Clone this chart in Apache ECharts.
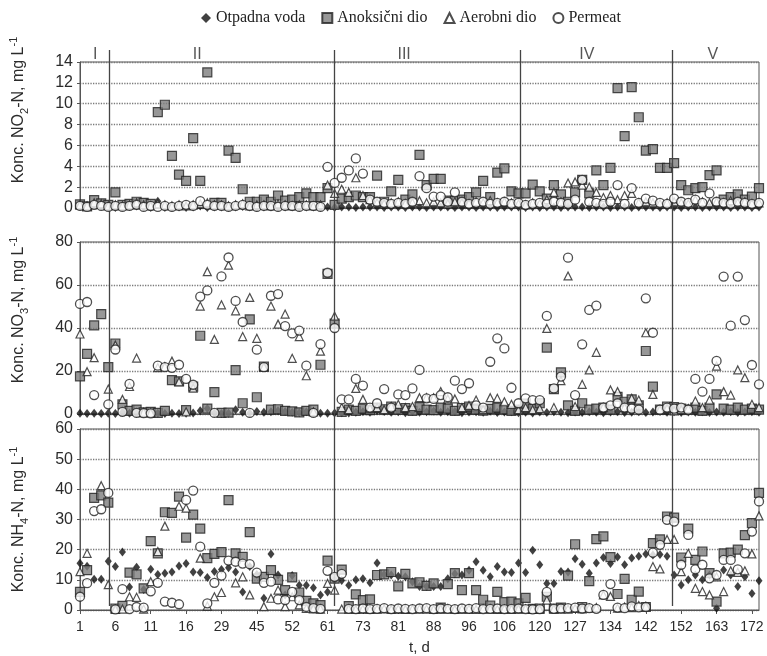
<!DOCTYPE html>
<html><head><meta charset="utf-8">
<script src="https://cdn.jsdelivr.net/npm/echarts@6/dist/echarts.min.js"></script>
<style>html,body{margin:0;padding:0;background:#fff}#c{width:767px;height:656px}</style>
</head><body><div id="c"></div>
<script>
// x axis: sample index 0..96, tick label every 5th sample (day numbers)
const tickLabels = [1,6,11,16,29,45,52,61,73,81,88,96,106,120,127,134,142,152,163,172];
const seriesNames = ['Otpadna voda','Anoksični dio','Aerobni dio','Permeat'];
const phaseNames = ['I','II','III','IV','V'];
const phaseBounds = [4.2, 36, 62.3, 83.7];          // sample-index positions of phase boundaries
const phaseLabelAt = [2.3, 16.7, 45.9, 71.7, 89.5];  // sample-index positions of phase names

// ---- NO2-N ----
const no2Otp = [
0.15,0.1,0.3,0.2,0.1,0.05,0.1,0.15,0.2,0.1,
0.05,0.65,0.05,0.05,0.1,0.05,0.1,0.2,0.05,0.1,
0.1,0.05,0.1,0.15,0.1,0.05,0.1,0.1,0.05,0.1,
0.1,0.05,0.1,0.1,0.05,0.1,0.05,0.1,0.1,0.05,
0.1,0.1,0.1,0.05,0.1,0.1,0.05,0.1,0.1,0.05,
0.1,0.1,0.1,0.05,0.1,0.1,0.05,0.1,0.1,0.05,
0.1,0.1,0.1,0.05,0.1,0.05,0.1,0.1,0.05,0.1,
0.1,0.1,0.05,0.1,0.1,0.05,0.1,0.1,0.05,0.1,
0.1,0.1,0.05,0.1,0.1,0.05,0.1,0.1,0.05,0.1,
0.1,0.1,0.05,0.1,0.1,0.05,0.1];
const no2Anox = [
0.35,0.15,0.75,0.45,0.3,1.5,0.3,0.4,0.6,0.5,
0.4,9.2,9.9,5.0,3.2,2.6,6.7,2.6,13.0,0.5,
0.5,5.5,4.8,1.8,0.6,0.6,0.8,0.6,1.2,0.7,
0.8,1.05,1.4,1.05,1.05,1.9,0.3,0.9,1.05,1.2,
1.05,1.05,3.1,0.6,1.6,2.7,0.8,1.3,5.1,2.2,
2.8,2.8,0.7,0.7,0.8,1.05,1.5,2.6,1.05,3.4,
3.8,1.6,1.4,1.4,2.25,1.6,0.9,2.2,1.3,0.6,
1.5,2.7,1.4,3.6,2.2,3.85,11.5,6.9,11.6,8.7,
5.5,5.65,3.85,3.85,4.3,2.2,1.7,1.9,2.0,3.15,
3.6,0.8,1.05,1.3,0.8,1.1,1.9];
const no2Aer = [
0.3,0.2,0.5,0.4,0.2,0.3,0.2,0.3,0.5,0.3,
0.2,0.4,0.3,0.2,0.3,0.2,0.3,0.4,0.5,0.3,
0.3,0.2,0.3,0.4,0.2,0.3,0.3,0.2,0.4,0.3,
0.2,0.3,0.3,0.2,0.3,2.2,1.4,1.8,1.5,2.9,
1.2,0.8,0.5,0.4,0.5,0.6,0.4,0.5,0.7,0.5,
0.6,0.5,0.4,0.6,0.5,0.4,0.6,0.5,0.7,0.5,
0.6,0.5,0.4,0.3,0.5,0.4,0.8,1.5,0.6,2.4,
2.5,2.2,2.0,1.5,1.0,1.2,0.8,1.2,1.4,0.5,
0.6,0.5,0.4,0.5,0.6,0.5,0.4,0.8,0.6,0.5,
0.6,0.5,0.7,0.5,0.6,0.4,0.5];
const no2Perm = [
0.2,0.1,0.3,0.2,0.1,0.2,0.1,0.2,0.3,0.1,
0.2,0.1,0.2,0.1,0.2,0.3,0.2,0.65,0.3,0.2,
0.2,0.1,0.2,0.3,0.2,0.1,0.2,0.2,0.1,0.2,
0.2,0.1,0.2,0.2,0.1,3.95,2.4,2.9,3.6,4.75,
3.3,0.8,0.6,0.5,0.4,0.5,0.4,0.6,3.05,1.9,
1.1,1.1,0.6,1.5,0.6,0.4,0.5,0.6,0.4,0.5,
0.6,0.4,0.5,0.3,0.4,0.5,0.4,0.6,0.5,0.4,
0.8,2.7,0.6,0.5,0.4,0.6,2.2,0.4,1.9,0.5,
0.9,0.7,0.5,0.4,0.9,0.6,0.5,0.8,0.5,1.4,
0.6,0.5,0.4,0.6,0.5,0.4,0.5];

// ---- NO3-N ----
const no3Otp = [
0.3,0.2,0.3,0.2,0.3,0.2,0.8,0.3,0.2,0.3,
0.2,0.3,0.2,0.3,0.2,0.3,0.5,1.5,2.6,0.3,
0.2,0.3,2.0,0.8,0.5,1.2,0.8,1.0,1.5,1.2,
0.8,0.6,1.0,0.5,0.4,0.3,0.5,0.6,0.5,0.8,
1.0,0.8,1.5,1.2,0.8,1.0,0.6,1.2,0.8,1.0,
1.4,0.8,1.0,1.2,0.6,0.9,1.1,0.8,1.3,0.7,
0.9,1.0,0.6,0.8,0.5,0.9,0.7,1.0,0.8,0.6,
0.9,0.7,1.0,0.8,0.6,0.9,1.1,0.7,0.8,1.0,
0.7,0.9,1.2,0.8,1.0,0.7,0.9,0.8,1.1,0.7,
0.9,0.8,1.0,0.7,0.9,1.1,0.8];
const no3Anox = [
17.5,28.0,41.2,46.5,21.8,32.8,4.5,1.5,2.0,0.8,
1.0,0.5,1.5,15.8,15.2,1.8,12.7,36.4,2.5,10.2,
0.5,0.6,20.4,5.0,44.0,7.8,22.0,2.0,2.2,1.5,
1.2,0.8,1.5,2.0,22.9,65.2,42.0,1.0,2.0,1.5,
2.5,1.8,3.0,2.2,3.5,2.0,2.8,1.5,3.2,2.0,
1.8,3.0,2.5,1.5,2.8,3.5,2.0,1.6,2.4,3.0,
2.2,1.5,2.0,4.8,2.5,5.0,30.9,11.6,19.4,4.0,
1.5,5.0,2.0,2.5,3.0,2.0,8.0,5.7,6.8,4.0,
29.3,12.7,2.0,3.5,3.2,2.5,2.0,3.0,1.5,3.0,
9.1,2.5,2.0,3.0,2.0,2.5,2.0];
const no3Aer = [
37.2,19.7,26.2,null,11.6,32.0,6.8,12.8,26.0,0.8,
0.5,21.6,22.0,24.6,15.0,1.0,12.0,50.2,66.2,34.7,
50.8,69.2,48.0,36.0,54.2,35.2,21.8,50.2,41.8,46.5,
25.9,36.0,17.8,1.0,29.2,null,45.5,3.0,2.0,11.9,
6.8,2.5,3.0,2.0,3.5,4.5,3.0,3.5,7.6,7.6,
7.5,10.4,7.0,7.0,3.0,4.0,6.5,2.0,7.6,7.3,
5.7,4.5,2.0,3.0,2.0,2.5,39.8,3.0,15.5,64.2,
3.5,13.8,20.5,28.7,3.0,11.2,10.4,3.0,7.3,6.5,
37.8,9.1,2.0,2.5,1.5,2.0,2.5,6.0,3.0,6.5,
22.3,10.4,8.8,20.5,16.9,4.5,3.0];
const no3Perm = [
51.2,52.1,8.8,null,4.5,30.0,1.0,14.0,0.5,0.4,
0.3,22.5,21.8,21.5,22.9,16.3,13.6,54.6,57.5,0.5,
64.0,72.8,52.6,42.8,0.5,29.9,21.8,55.0,55.8,40.9,
37.5,38.8,22.5,0.5,32.5,65.7,40.0,6.8,6.8,16.3,
13.2,3.0,5.0,11.6,3.0,9.1,8.8,11.9,20.5,7.3,
7.0,8.8,7.8,15.5,11.6,14.3,4.0,3.0,24.3,35.2,
30.5,12.2,5.0,7.3,6.5,6.5,45.6,11.9,17.4,72.7,
8.8,32.4,48.4,50.4,3.0,4.0,5.0,3.0,2.5,2.0,
53.8,37.8,2.0,3.0,2.5,3.0,2.0,16.3,10.4,16.3,
24.7,63.9,41.1,63.9,43.7,22.8,13.8];

// ---- NH4-N ----
const nh4Otp = [
15.5,14.5,10.2,10.2,16.2,14.4,19.2,7.6,14.2,6.8,
13.5,11.8,12.2,12.6,14.6,15.4,12.6,12.4,10.8,12.8,
13.4,14.0,12.6,6.0,14.4,11.8,3.9,18.6,11.6,5.0,
11.4,8.2,8.2,7.4,5.0,6.0,10.0,9.8,8.2,10.0,
10.4,9.0,15.6,11.8,11.6,11.2,11.0,9.4,7.8,7.8,
7.8,7.8,10.4,12.0,11.6,13.2,16.0,13.2,11.0,14.4,
12.6,12.4,15.6,12.4,19.8,15.0,8.8,8.8,12.8,12.6,
17.0,15.2,12.2,15.6,17.4,15.4,17.6,15.0,17.2,17.8,
18.6,18.2,18.4,17.8,11.6,8.3,10.0,11.6,10.0,11.6,
0.6,13.3,11.6,7.8,11.0,5.5,9.7];
const nh4Anox = [
6.0,13.2,37.2,38.0,35.6,0.5,1.4,12.4,11.8,7.2,
22.8,18.8,32.4,32.2,37.6,24.0,31.6,27.0,17.2,18.6,
19.2,36.4,18.8,17.6,25.8,10.4,11.0,13.2,10.0,6.6,
10.8,5.8,3.0,2.2,1.6,16.4,10.4,13.4,1.3,5.2,
3.3,3.5,11.6,11.8,12.6,7.8,12.0,8.8,9.2,8.0,
8.8,0.8,8.6,12.2,6.6,12.2,6.6,3.4,1.5,6.0,
2.6,2.8,2.2,4.0,0.4,0.5,4.4,0.5,0.8,11.4,
21.8,1.0,9.6,23.5,24.4,17.5,5.3,10.3,3.4,6.1,
1.0,22.2,23.4,31.0,30.6,17.4,27.0,16.6,19.4,12.2,
2.8,18.8,19.0,20.0,24.8,28.8,38.8];
const nh4Aer = [
12.7,18.8,null,41.2,8.4,0.2,0.3,4.4,4.2,0.3,
9.4,19.4,27.8,null,34.4,33.8,null,17.2,1.3,4.4,
5.8,null,9.0,11.0,5.0,null,1.1,3.9,6.6,1.1,
4.4,1.7,0.5,0.4,0.3,8.8,6.6,0.3,0.3,0.2,
0.3,0.2,0.3,0.4,0.2,0.3,0.2,0.3,0.4,0.3,
0.2,0.3,0.4,0.2,0.3,0.3,0.2,0.4,0.3,0.2,
0.3,0.2,0.3,0.4,0.3,0.2,3.3,0.3,0.4,0.3,
0.5,0.4,0.6,0.8,5.0,4.5,0.6,1.0,0.8,1.5,
1.2,14.4,13.6,23.4,23.4,12.7,18.8,7.2,6.1,5.0,
11.0,6.1,13.0,12.5,13.0,18.6,31.2];
const nh4Perm = [
4.4,8.9,32.8,33.4,38.8,0.2,6.9,0.3,1.0,0.8,
6.2,9.0,2.8,2.4,1.9,36.5,39.6,21.0,2.2,9.0,
11.4,16.4,16.0,15.4,15.2,12.4,9.0,9.4,3.5,3.3,
6.0,3.3,1.0,0.6,0.4,13.0,11.0,12.0,0.4,0.3,
0.5,0.3,0.4,0.6,0.3,0.5,0.4,0.3,0.5,0.6,
0.3,0.5,0.4,0.3,0.5,0.4,0.6,0.3,0.4,0.5,
0.3,0.4,0.5,0.3,0.2,0.3,6.0,0.4,0.5,0.6,
0.8,0.5,0.6,0.4,5.0,8.6,0.8,0.6,1.2,0.9,
1.0,19.0,21.6,29.9,29.3,15.0,24.9,13.5,15.0,10.5,
11.6,16.6,16.6,13.5,18.8,26.0,36.0];

const panels = [
  {sets:[no2Otp,no2Anox,no2Aer,no2Perm], max:14, interval:2, chem:'NO', sub:'2', shift:50},
  {sets:[no3Otp,no3Anox,no3Aer,no3Perm], max:80, interval:20, chem:'NO', sub:'3', shift:36},
  {sets:[nh4Otp,nh4Anox,nh4Aer,nh4Perm], max:60, interval:10, chem:'NH', sub:'4', shift:0}
];
const gridBoxes = [{top:62,height:146},{top:242,height:172},{top:429,height:181}];

const markerStyles = [
  {symbol:'diamond', symbolSize:[7,9], itemStyle:{color:'#111'}},
  {symbol:'rect', symbolSize:9, itemStyle:{color:'#7d7d7d', borderColor:'#222', borderWidth:1.2}},
  {symbol:'triangle', symbolSize:8, itemStyle:{color:'#fff', borderColor:'#222', borderWidth:1.2}},
  {symbol:'circle', symbolSize:9, itemStyle:{color:'#fff', borderColor:'#222', borderWidth:1.3}}
];

const toPts = arr => arr.map((v,i)=>[i,v]).filter(d=>d[1]!=null);
const txt = '#2b2b2b';

const grid = gridBoxes.map(g=>({left:79, right:8, top:g.top, height:g.height, show:true, borderColor:'#555', borderWidth:1}));
grid.push({left:79, right:8, top:50, height:556, show:false});

const xAxis = [0,1,2].map(k=>({
  type:'value', gridIndex:k, min:0, max:96, interval:5,
  splitLine:{show:false},
  axisLine:{show:true, lineStyle:{color:'#555'}},
  axisTick:{show:k===2, length:4, lineStyle:{color:'#555'}},
  axisLabel:{show:k===2, showMaxLabel:false, margin:10, fontSize:14, color:txt, fontFamily:'Liberation Sans',
    formatter: v => (v%5===0 && tickLabels[v/5]!==undefined) ? String(tickLabels[v/5]) : ''},
  name: k===2 ? 't, d' : '', nameLocation:'middle', nameGap:30,
  nameTextStyle:{fontSize:15, color:txt, fontFamily:'Liberation Sans'}
}));
xAxis.push({type:'value', gridIndex:3, min:0, max:96, show:false});

const yAxis = panels.map((p,k)=>({
  type:'value', gridIndex:k, min:0, max:p.max, interval:p.interval,
  axisLine:{show:true, lineStyle:{color:'#555'}},
  axisTick:{show:true, length:3, lineStyle:{color:'#555'}},
  axisLabel:{fontSize:16, color:txt, margin:7, fontFamily:'Liberation Sans'},
  splitLine:{show:true, lineStyle:{color:'#7a7a7a', width:1.3, type:'dotted'}},
  name:`{n|Konc. ${p.chem}}{s|${p.sub}}{n|-N, mg L}{p|-1}`,
  nameLocation:'middle', nameGap:50,
  nameTextStyle:{color:txt, fontFamily:'Liberation Sans', fontSize:16, padding:[0,0,0,p.shift],
    rich:{n:{fontSize:16, lineHeight:22, color:txt, fontFamily:'Liberation Sans'},
          s:{fontSize:11, lineHeight:12, verticalAlign:'bottom', color:txt, fontFamily:'Liberation Sans'},
          p:{fontSize:11, lineHeight:12, verticalAlign:'top', color:txt, fontFamily:'Liberation Sans'}}}
}));
yAxis.push({type:'value', gridIndex:3, min:0, max:1, show:false});

const series = [];
panels.forEach((p,k)=>{
  p.sets.forEach((arr,s)=>{
    series.push(Object.assign({
      type:'scatter', name:seriesNames[s], xAxisIndex:k, yAxisIndex:k,
      data: toPts(arr), animation:false, z:2+s
    }, JSON.parse(JSON.stringify(markerStyles[s]))));
  });
});
// phase boundaries and phase names
series.push({
  type:'scatter', xAxisIndex:3, yAxisIndex:3, animation:false, silent:true,
  symbolSize:1, itemStyle:{color:'transparent'},
  data: phaseLabelAt.map((x,k)=>({value:[x,1], name:phaseNames[k]})),
  label:{show:true, formatter:'{b}', position:'inside', offset:[0,5], fontSize:16, color:txt, fontFamily:'Liberation Sans'},
  markLine:{silent:true, symbol:'none', animation:false, label:{show:false},
    lineStyle:{color:'#444', width:1.3, type:'solid'},
    data: phaseBounds.map(x=>({xAxis:x}))}
});

const chart = echarts.init(document.getElementById('c'));
chart.setOption({
  backgroundColor:'#fff',
  animation:false,
  legend:{
    top:5, left:196, itemGap:16, itemWidth:10, itemHeight:10,
    textStyle:{fontFamily:'Liberation Serif', fontSize:16, color:'#222'},
    data:[seriesNames[0], seriesNames[1], {name:seriesNames[2], textStyle:{padding:[0,20,0,0]}}, seriesNames[3]]
  },
  grid, xAxis, yAxis, series
});
</script></body></html>
